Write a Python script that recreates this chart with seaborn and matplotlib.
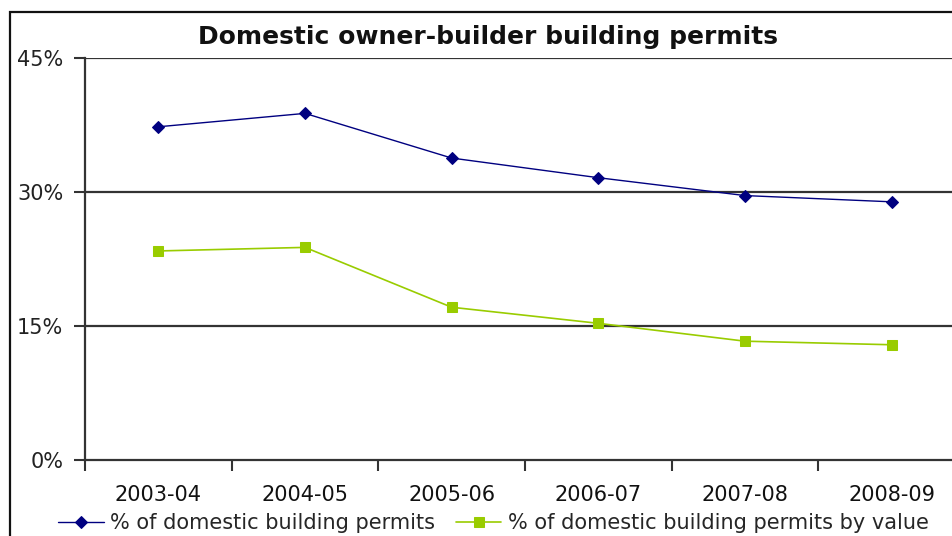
import matplotlib
matplotlib.use("Agg")
import matplotlib.pyplot as plt
import seaborn as sns
import pandas as pd
from matplotlib.patches import Rectangle
from matplotlib.ticker import FuncFormatter, FixedLocator

years = ["2003-04", "2004-05", "2005-06", "2006-07", "2007-08", "2008-09"]
pct_permits = [37.3, 38.8, 33.8, 31.6, 29.6, 28.9]
pct_by_value = [23.4, 23.8, 17.1, 15.3, 13.3, 12.9]
name_permits = "% of domestic building permits"
name_value = "% of domestic building permits by value"
title = "Domestic owner-builder building permits"
y_ticks = [0, 15, 30, 45]

sns.set_theme(style="white")
plt.rcParams["font.family"] = ["DejaVu Sans"]

fig = plt.figure(figsize=(9.52, 5.36), dpi=100)
ax = fig.add_axes([85/952, 76/536, 880/952, 402/536])

df = pd.DataFrame({"year": years, "a": pct_permits, "b": pct_by_value})
sns.lineplot(data=df, x="year", y="a", ax=ax, color="#000080", lw=1.0,
             marker="D", markersize=6, markeredgecolor="#000080", label=name_permits)
sns.lineplot(data=df, x="year", y="b", ax=ax, color="#99CC00", lw=1.2,
             marker="s", markersize=7.5, markeredgecolor="#99CC00", label=name_value)

ax.set_xlim(-0.5, 5.5)
ax.set_ylim(0, 45)
ax.set_yticks(y_ticks)
ax.yaxis.set_major_formatter(FuncFormatter(lambda v, p: f"{int(v)}%"))
ax.set_xlabel("")
ax.set_ylabel("")
for v in y_ticks[1:]:
    ax.axhline(v, color="#333333", lw=1.6, zorder=0)

ax.xaxis.set_minor_locator(FixedLocator([i - 0.5 for i in range(len(years) + 1)]))
ax.tick_params(axis="x", which="major", length=0, pad=18, labelsize=15, colors="#111111")
ax.tick_params(axis="x", which="minor", length=8, width=1.5, color="#333333", direction="out", bottom=True)
ax.tick_params(axis="y", which="major", length=8, width=1.5, color="#333333", direction="out",
               left=True, pad=7.7, labelsize=15)
for lbl in ax.get_yticklabels():
    lbl.set_color("#222222")

for s in ["top", "right"]:
    ax.spines[s].set_visible(False)
for s in ["left", "bottom"]:
    ax.spines[s].set_color("#333333")
    ax.spines[s].set_linewidth(1.6)

ax.get_legend().remove()
h, l = ax.get_legend_handles_labels()
fig.legend(h, l, loc="center", bbox_to_anchor=(0.518, 1 - 523/536), ncol=2, frameon=False,
           fontsize=15, handlelength=2.2, handletextpad=0.3, columnspacing=1.0)

fig.text(0.513, 1 - 37/536, title, ha="center", va="center", fontsize=18, fontweight="bold",
         color="#111111")

fig.patches.append(Rectangle((10/952, -0.2), 1.2, 1 - 12/536 + 0.2, transform=fig.transFigure,
                             fill=False, edgecolor="#111111", lw=1.6, clip_on=False))

fig.savefig("out.png", dpi=100)
